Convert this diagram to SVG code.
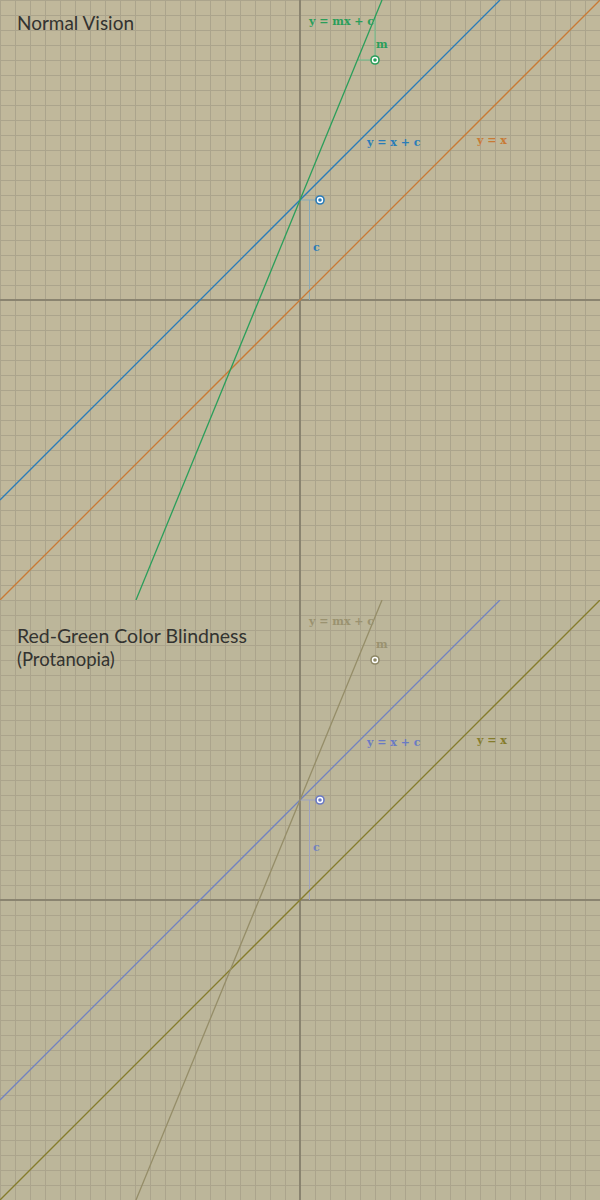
<svg xmlns="http://www.w3.org/2000/svg" width="600" height="1200" viewBox="0 0 600 1200">
  <style>
    .title { font-family: Lato, "Liberation Sans", sans-serif; font-size: 18.5px; fill: #333330; }
    .lbl { font-family: "DejaVu Serif", "Liberation Serif", serif; font-weight: bold; font-size: 11px; }
    .axis { stroke: #8a8470; stroke-width: 2; fill: none; }
    .curve { stroke-width: 1.3; fill: none; }
    .helper { stroke-width: 1; fill: none; }
  </style>
  <defs>
    <pattern id="grid" x="0" y="0" width="15" height="15" patternUnits="userSpaceOnUse">
      <path d="M0.5 0 V15 M0 0.5 H15" stroke="#aba48c" stroke-width="1" fill="none"/>
    </pattern>
    <clipPath id="panel"><rect x="0" y="0" width="600" height="600"/></clipPath>
  </defs>

  <!-- Top panel: Normal Vision -->
  <g id="normal" clip-path="url(#panel)">
    <rect x="0" y="0" width="600" height="600" fill="#c0b89b"/>
    <rect x="0" y="0" width="600" height="600" fill="url(#grid)"/>
    <g id="axes-top">
      <line class="axis" x1="300" y1="0" x2="300" y2="600"/>
      <line class="axis" x1="0" y1="300" x2="600" y2="300"/>
    </g>
    <g id="helpers-top">
      <path class="helper" stroke="#88aab8" d="M300 200 H316 M309.5 200 V300"/>
      <path class="helper" stroke="#6cc08c" d="M357.4 60 H375 V17"/>
    </g>
    <g id="connectors-top">
      <line id="line-yx" class="curve" stroke="#c87a35" x1="0" y1="600" x2="600" y2="0"/>
      <line id="line-yxc" class="curve" stroke="#2a7cb8" x1="0" y1="500" x2="500" y2="0"/>
      <line id="line-ymxc" class="curve" stroke="#2a9e5a" x1="136" y1="600" x2="382" y2="0"/>
    </g>
    <g id="handle-c-top">
      <circle cx="320" cy="200" r="4.8" fill="#2a7cb8"/>
      <circle cx="320" cy="200" r="3.2" fill="#ffffff"/>
      <circle cx="320" cy="200" r="1.8" fill="#2a7cb8"/>
    </g>
    <g id="handle-m-top">
      <circle cx="375" cy="60" r="4.8" fill="#2a9e5a"/>
      <circle cx="375" cy="60" r="3.2" fill="#ffffff"/>
      <circle cx="375" cy="60" r="1.8" fill="#2a9e5a"/>
    </g>
    <g id="labels-top">
      <text class="lbl" x="309" y="25" fill="#2a9e5a">y = mx + c</text>
      <text class="lbl" x="376" y="48" fill="#2a9e5a">m</text>
      <text class="lbl" x="367" y="146" fill="#2a7cb8">y = x + c</text>
      <text class="lbl" x="477" y="144" fill="#c87a35">y = x</text>
      <text class="lbl" x="313" y="251" fill="#2a7cb8">c</text>
    </g>
    <text class="title" x="17" y="30" textLength="117" lengthAdjust="spacingAndGlyphs">Normal Vision</text>
  </g>

  <!-- Bottom panel: Protanopia -->
  <g id="protanopia" transform="translate(0,600)">
    <g clip-path="url(#panel)">
      <rect x="0" y="0" width="600" height="600" fill="#bcb69a"/>
      <rect x="0" y="0" width="600" height="600" fill="url(#grid)"/>
      <g id="axes-bottom">
        <line class="axis" x1="300" y1="0" x2="300" y2="600"/>
        <line class="axis" x1="0" y1="300" x2="600" y2="300"/>
      </g>
      <g id="helpers-bottom">
        <path class="helper" stroke="#9ea3c0" d="M300 200 H316 M309.5 200 V300"/>
      </g>
      <g id="connectors-bottom">
        <line class="curve" stroke="#857c2c" x1="0" y1="600" x2="600" y2="0"/>
        <line class="curve" stroke="#7282c0" x1="0" y1="500" x2="500" y2="0"/>
        <line class="curve" stroke="#958d68" x1="136" y1="600" x2="382" y2="0"/>
      </g>
      <g id="handle-c-bottom">
        <circle cx="320" cy="200" r="4.8" fill="#6a7ac4"/>
        <circle cx="320" cy="200" r="3.2" fill="#ffffff"/>
        <circle cx="320" cy="200" r="1.8" fill="#6a7ac4"/>
      </g>
      <g id="handle-m-bottom">
        <circle cx="375" cy="60" r="4.8" fill="#8e8866"/>
        <circle cx="375" cy="60" r="3.2" fill="#ffffff"/>
        <circle cx="375" cy="60" r="1.8" fill="#8e8866"/>
      </g>
      <g id="labels-bottom">
        <text class="lbl" x="309" y="25" fill="#9a9270">y = mx + c</text>
        <text class="lbl" x="376" y="48" fill="#9a9270">m</text>
        <text class="lbl" x="367" y="146" fill="#6a7ac4">y = x + c</text>
        <text class="lbl" x="477" y="144" fill="#857c2c">y = x</text>
        <text class="lbl" x="313" y="251" fill="#7282c0">c</text>
      </g>
      <text class="title" x="17" y="43" textLength="230" lengthAdjust="spacingAndGlyphs">Red-Green Color Blindness</text>
      <text class="title" x="17" y="66">(Protanopia)</text>
    </g>
  </g>
</svg>
